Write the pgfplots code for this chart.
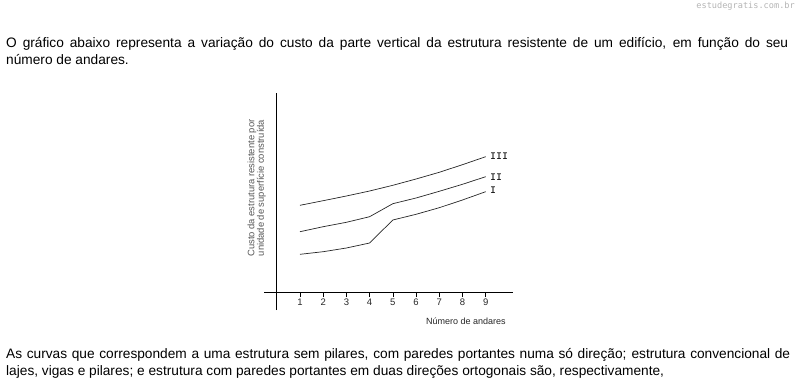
\documentclass[border=0pt]{standalone}
\usepackage{pgfplots}
\pgfplotsset{compat=1.18}
\usepackage{fontspec}
\setmainfont{Liberation Sans}
\newfontfamily\romanfont{Liberation Mono}
\newfontfamily\wmfont{DejaVu Sans Mono}
\definecolor{wm}{HTML}{B4B4B4}
\definecolor{ylab}{HTML}{555555}
\begin{document}
\begin{tikzpicture}
\path[use as bounding box] (0,0) rectangle (798pt,-386pt);
% watermark
\node[anchor=east, inner sep=0pt, text=wm, font=\wmfont\fontsize{8.6}{10}\selectfont] at (795pt,-6pt) {estudegratis.com.br};
% top text
\node[anchor=base west, inner sep=0pt, font=\fontsize{13.7}{17}\selectfont] at (6pt,-47pt)
 {\makebox[782pt][s]{O gráfico abaixo representa a variação do custo da parte vertical da estrutura resistente de um edifício, em função do seu}};
\node[anchor=base west, inner sep=0pt, font=\fontsize{13.7}{17}\selectfont] at (6pt,-64pt)
 {número de andares.};
% bottom text
\node[anchor=base west, inner sep=0pt, font=\fontsize{13.7}{17}\selectfont] at (6pt,-358pt)
 {\makebox[784pt][s]{As curvas que correspondem a uma estrutura sem pilares, com paredes portantes numa só direção; estrutura convencional de}};
\node[anchor=base west, inner sep=0pt, font=\fontsize{13.7}{17}\selectfont] at (6pt,-375pt)
 {lajes, vigas e pilares; e estrutura com paredes portantes em duas direções ortogonais são, respectivamente,};
\begin{axis}[
  at={(264pt,-310pt)}, anchor=south west,
  x=23.21pt, y=1pt,
  xmin=-0.55, xmax=10.18, ymin=-18, ymax=199,
  enlargelimits=false,
  axis lines=middle,
  axis line style={-, line width=0.8pt, black},
  xtick={1,2,3,4,5,6,7,8,9},
  ytick=\empty,
  tick align=outside,
  major tick length=5pt,
  xtick style={line width=0.6pt, black},
  /pgf/number format/assume math mode=true,
  xticklabel style={font=\fontsize{9.5}{11}\selectfont, text=black!85, inner sep=1.5pt},
  clip=false,
]
\addplot[line width=0.7pt, black!85] coordinates {
 (1,86.7) (2,91.3) (3,96) (4,101) (5,106.7) (6,113) (7,119.7) (8,127.3) (9,135.3)};
\addplot[line width=0.7pt, black!85] coordinates {
 (1,60.3) (2,65.3) (3,69.7) (4,75.3) (5,88.3) (6,94) (7,100.7) (8,107.7) (9,115.3)};
\addplot[line width=0.7pt, black!85] coordinates {
 (1,37.7) (2,40.3) (3,44) (4,49) (5,72) (6,77.7) (7,84.3) (8,92) (9,100.3)};
\node[anchor=west, inner sep=0pt, font=\romanfont\fontsize{10}{11}\selectfont] at (axis cs:9.18,136) {III};
\node[anchor=west, inner sep=0pt, font=\romanfont\fontsize{10}{11}\selectfont] at (axis cs:9.18,115) {II};
\node[anchor=west, inner sep=0pt, font=\romanfont\fontsize{10}{11}\selectfont] at (axis cs:9.18,102) {I};
\node[anchor=center, font=\fontsize{9}{11}\selectfont, text=black!85] at (axis cs:8.15,-29) {Número de andares};
\node[rotate=90, anchor=center, align=center, inner sep=0pt, text=ylab, font=\fontsize{9.4}{9.5}\selectfont] at (axis cs:-0.87,104) {Custo da estrutura resistente por\\unidade de superfície construída};
\end{axis}
\end{tikzpicture}
\end{document}
